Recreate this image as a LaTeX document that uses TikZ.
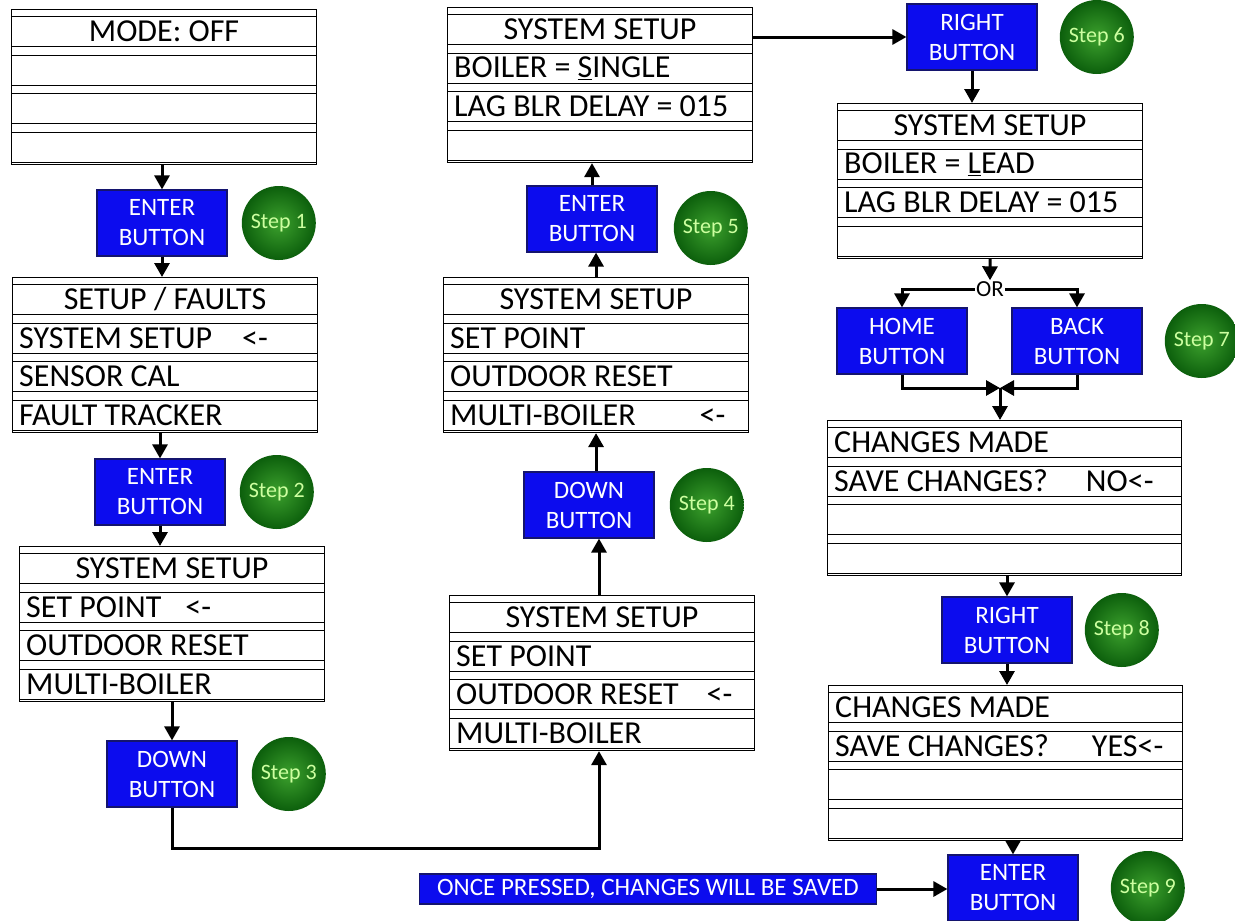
\documentclass[tikz,border=0pt]{standalone}
\usepackage{fontspec}
\setmainfont{Carlito}
\usetikzlibrary{positioning,calc,arrows.meta,shadings}
\definecolor{btnblue}{RGB}{12,12,238}
\definecolor{btnedge}{RGB}{20,20,110}
\definecolor{stepdark}{RGB}{12,95,12}
\definecolor{steplight}{RGB}{60,160,45}
\definecolor{steptext}{RGB}{205,255,160}
\newcommand\lcdw{305pt}
\newcommand\lcdwide{354pt}
\newcommand\stepgap{14pt}
% one display: [title anchor] name, top left, width, four rows
\newcommand\lcd[7][center]{%
  \node[lcdframe, minimum width=#4, anchor=north west] (#2) at (#3) {};
  \foreach \r in {0,...,3}
    \node[lcdrow, minimum width=#4, anchor=north west] (#2-\r) at ($(#2.north west)+(0,7+38.5*\r)$) {};
  \node[lcdtext, anchor=#1] at (#2-0.#1) {#5};
  \node[lcdtext, anchor=west] at (#2-1.west) {#6};
  \node[lcdtext, anchor=west] at (#2-2.west) {#7};
}
\newcommand\lcdlast[2]{\node[lcdtext, anchor=west] at (#1-3.west) {#2};}

\tikzset{
  lcdframe/.style={draw, line width=1.1pt, minimum height=155pt, inner sep=0pt},
  lcdrow/.style={draw, line width=1.1pt, minimum height=30pt, inner sep=0pt},
  lcdtext/.style={inner sep=7pt, font=\fontsize{32}{34}\selectfont},
  btn/.style={draw=btnedge, line width=1.2pt, fill=btnblue, text=white,
    minimum width=130pt, minimum height=66pt, inner sep=0pt, align=center,
    font=\fontsize{25}{30}\selectfont},
  stepball/.style={circle, inner color=steplight, outer color=stepdark, text=steptext,
    minimum size=74pt, inner sep=0pt, font=\fontsize{22}{24}\selectfont},
  arr/.style={line width=3pt, -{Triangle[length=14pt,width=15pt]}},
}

\begin{document}
\begin{tikzpicture}[x=1pt, y=-1pt]
  \useasboundingbox (0,0) rectangle (1235,921);
  % displays
  \lcd{mode}{11,9}{\lcdw}{MODE: OFF}{}{}
  \lcdlast{mode}{}
  \lcd{faults}{12,277}{\lcdw}{SETUP / FAULTS}{SYSTEM SETUP\hspace{30pt}<-}{SENSOR CAL}
  \lcdlast{faults}{FAULT TRACKER}
  \lcd{setupa}{19,546}{\lcdw}{SYSTEM SETUP}{SET POINT\hspace{24pt}<-}{OUTDOOR RESET}
  \lcdlast{setupa}{MULTI-BOILER}
  \lcd{setupb}{449,595}{\lcdw}{SYSTEM SETUP}{SET POINT}{OUTDOOR RESET\hspace{28pt}<-}
  \lcdlast{setupb}{MULTI-BOILER}
  \lcd{setupc}{443,277}{\lcdw}{SYSTEM SETUP}{SET POINT}{OUTDOOR RESET}
  \lcdlast{setupc}{MULTI-BOILER\hspace{64pt}<-}
  \lcd{single}{447,7}{\lcdw}{SYSTEM SETUP}{BOILER = \underline{S}INGLE}{LAG BLR DELAY = 015}
  \lcd{lead}{837,103}{\lcdw}{SYSTEM SETUP}{BOILER = \underline{L}EAD}{LAG BLR DELAY = 015}
  \lcd[west]{saveno}{827,420}{\lcdwide}{CHANGES MADE}{SAVE CHANGES?\hspace{38pt}NO<-}{}
  \lcd[west]{saveyes}{828,685}{\lcdwide}{CHANGES MADE}{SAVE CHANGES?\hspace{43pt}YES<-}{}

  % buttons
  \node[btn] (enter1) at (162,223) {ENTER\\BUTTON};
  \node[btn] (enter2) at (160,492) {ENTER\\BUTTON};
  \node[btn] (down1) at (172,774) {DOWN\\BUTTON};
  \node[btn] (down2) at (589,505) {DOWN\\BUTTON};
  \node[btn] (enter3) at (592,219) {ENTER\\BUTTON};
  \node[btn] (right1) at (972,37) {RIGHT\\BUTTON};
  \node[btn] (home) at (902,341) {HOME\\BUTTON};
  \node[btn] (back) at (1077,341) {BACK\\BUTTON};
  \node[btn] (right2) at (1007,630) {RIGHT\\BUTTON};
  \node[btn] (enter4) at (1013,888) {ENTER\\BUTTON};
  \node[btn, minimum width=457pt, minimum height=30pt, font=\fontsize{25}{26}\selectfont]
    (note) at (648,889) {ONCE PRESSED, CHANGES WILL BE SAVED};

  % steps
  \node[stepball, right=\stepgap of enter1] (s1) {Step 1};
  \node[stepball, right=\stepgap of enter2] (s2) {Step 2};
  \node[stepball, right=\stepgap of down1] (s3) {Step 3};
  \node[stepball, right=15pt of down2] (s4) {Step 4};
  \node[stepball, right=16pt of enter3, yshift=-9pt] (s5) {Step 5};
  \node[stepball, right=22pt of right1] (s6) {Step 6};
  \node[stepball, right=22pt of back] (s7) {Step 7};
  \node[stepball, right=12pt of right2] (s8) {Step 8};
  \node[stepball, right=32pt of enter4] (s9) {Step 9};

  % flow
  \draw[arr] (enter1.north |- mode.south) -- (enter1.north);
  \draw[arr] (enter1.south) -- (enter1.south |- faults.north);
  \draw[arr] (enter2.north |- faults.south) -- (enter2.north);
  \draw[arr] (enter2.south) -- (enter2.south |- setupa.north);
  \draw[arr] (down1.north |- setupa.south) -- (down1.north);
  \coordinate (low) at (599,848);
  \draw[arr] (down1.south) |- (low) -- (low |- setupb.south);
  \draw[arr] (low |- setupb.north) -- (low |- down2.south);
  \draw[arr] (down2.north -| setupc.south) -- (setupc.south);
  \draw[arr] (setupc.north) -- (setupc.north |- enter3.south);
  \draw[arr] (enter3.north) -- (enter3.north |- single.south);
  \draw[arr] (single-0.east |- right1.west) -- (right1.west);
  \draw[arr] (right1.south) -- (right1.south |- lead.north);
  % either button
  \node[inner sep=1pt, font=\fontsize{23}{24}\selectfont] (or) at (990,289) {OR};
  \draw[arr] (lead.south) -- (or.north);
  \draw[arr] (or.west) -| (home.north);
  \draw[arr] (or.east) -| (back.north);
  \coordinate (join) at (1000,388);
  \draw[arr] (home.south) |- (join);
  \draw[arr] (back.south) |- (join);
  \draw[arr] (join) -- (join |- saveno.north);
  \draw[arr] (right2.north |- saveno.south) -- (right2.north);
  \draw[arr] (right2.south) -- (right2.south |- saveyes.north);
  \draw[arr] (enter4.north |- saveyes.south) -- (enter4.north);
  \draw[arr] (note.east) -- (note.east -| enter4.west);
\end{tikzpicture}
\end{document}
